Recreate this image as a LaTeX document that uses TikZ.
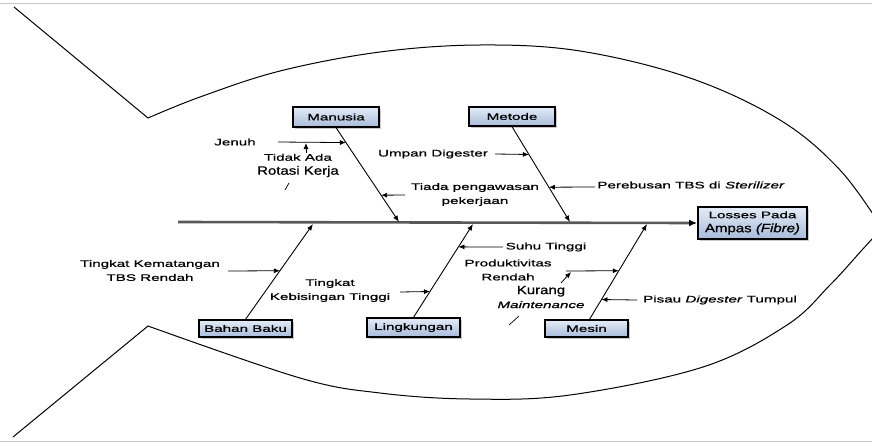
\documentclass[tikz,border=0pt]{standalone}
\usepackage{fontspec}
\setmainfont{Liberation Sans}[FakeStretch=1.6,FakeBold=0.8]
\newfontfamily\tallfont{Liberation Sans}[FakeStretch=1.25,FakeBold=0.8]
\usepackage{tikz}
\usetikzlibrary{arrows.meta,shadows,calc}
\definecolor{boxtop}{HTML}{E4ECF7}
\definecolor{boxbot}{HTML}{A8BBDA}
\definecolor{spinegray}{HTML}{595959}
\definecolor{framegray}{HTML}{C8C8C8}
\newcommand{\besar}{\tallfont\fontsize{12}{14}\selectfont}
\tikzset{
  kategori/.style={draw, line width=1.3pt, top color=boxtop, bottom color=boxbot,
    drop shadow={shadow xshift=2pt, shadow yshift=-2pt, fill=black!35, opacity=0.6},
    inner sep=1pt, font=\fontsize{9.5}{14}\selectfont},
  sebab/.style={font=\fontsize{9.5}{14}\selectfont, align=center, inner sep=0pt},
  tulang/.style={-{Latex[length=6.5pt,width=5pt]}, line width=0.9pt},
  panah/.style={-{Latex[length=6pt,width=5pt]}, line width=0.8pt},
}

\begin{document}
\begin{tikzpicture}[x=1pt,y=-1pt]
\useasboundingbox (0,0) rectangle (872,442);
\draw[framegray, line width=1pt] (0,3) -- (872,3);
\draw[framegray, line width=1pt] (0,441) -- (872,441);
\draw[line width=1pt] (14,7) -- plot[smooth, tension=0.6] coordinates {(148,118) (200,97) (280,71) (380,52) (480,45) (580,51) (690,78) (780,120) (840,170) (882,228)}
  -- plot[smooth, tension=0.6] coordinates {(882,228) (862,250) (830,285) (787,325) (703,367) (570,395) (470,399) (380,393) (300,378) (148,326)}
  -- (13,437);

\node[kategori, minimum width=86pt, minimum height=20pt] (manusia) at (336,117) {Manusia};
\node[kategori, minimum width=86pt, minimum height=19pt] (metode) at (512,116.5) {Metode};
\node[kategori, minimum width=93pt, minimum height=17pt] (bahan) at (245.5,328.5) {Bahan Baku};
\node[kategori, minimum width=93pt, minimum height=19pt] (lingkungan) at (413.5,327.5) {Lingkungan};
\node[kategori, minimum width=83pt, minimum height=17pt] (mesin) at (586.5,328.5) {Mesin};
\node[kategori, minimum width=109pt, minimum height=32pt, align=center, line width=1.8pt] (losses) at (752.5,223) {Losses Pada\\{\besar Ampas \textit{(Fibre)}}};

\coordinate (ekor) at (178,222);
\coordinate (tm) at (399,222);
\coordinate (tme) at (570,222);
\coordinate (tb) at (313,224);
\coordinate (tl) at (473,224);
\coordinate (ts) at (647,224);
\draw[spinegray, line width=2.6pt, -{Latex[length=8pt,width=7pt,color=black]}] (ekor) -- (losses.west);

\draw[tulang] (manusia.south) -- (tm);
\draw[tulang] (metode.south) -- (tme);
\draw[tulang] (bahan.north) -- (tb);
\draw[tulang] (lingkungan.north) -- (tl);
\draw[tulang] ([xshift=3pt]mesin.north) -- (ts);

\node[sebab] (jenuh) at (235,142) {Jenuh};
\node[sebab] (tidak) at (298,165.5) {Tidak Ada\\\besar Rotasi Kerja};
\node[sebab] (tiada) at (475,194.5) {Tiada pengawasan\\pekerjaan};
\node[sebab] (umpan) at (433,154) {Umpan Digester};
\node[sebab] (rebus) at (691,185) {Perebusan TBS di \textit{Sterilizer}};
\node[sebab] (matang) at (150,270.5) {Tingkat Kematangan\\TBS Rendah};
\node[sebab] (bising) at (330,290.5) {Tingkat\\Kebisingan Tinggi};
\node[sebab] (suhu) at (546,247) {Suhu Tinggi};
\node[sebab] (produk) at (508,270) {Produktivitas\\Rendah};
\node[sebab] (kurang) at (541,297) {{\besar Kurang}\\\textit{Maintenance}};
\node[sebab] (pisau) at (720,300) {Pisau \textit{Digester} Tumpul};

\coordinate (jenuh0) at (278,142);
\coordinate (tiada0) at (405,195);
\coordinate (umpan0) at (495,154);
\coordinate (rebus0) at (595,187);
\coordinate (matang0) at (228,271);
\coordinate (suhu0) at (503,247);
\coordinate (bising0) at (400,292);
\coordinate (produk0) at (566,271);
\coordinate (pisau0) at (637,300);
\coordinate (tidak0) at (306,153);
\coordinate (tidak1) at (306,143);
\coordinate (kurang0) at (561,283);
\coordinate (kurang1) at (571,272);

\draw[panah] (jenuh0) -- ($(manusia.south)!0.158!(tm)$);
\draw[panah] (tiada0) -- ($(manusia.south)!0.716!(tm)$);
\draw[panah] (umpan0) -- ($(metode.south)!0.292!(tme)$);
\draw[panah] (rebus0) -- ($(metode.south)!0.635!(tme)$);
\draw[panah] (matang0) -- ($(bahan.north)!0.51!(tb)$);
\draw[panah] (suhu0) -- ($(lingkungan.north)!0.755!(tl)$);
\draw[panah] (bising0) -- ($(lingkungan.north)!0.277!(tl)$);
\draw[panah] (produk0) -- ($([xshift=3pt]mesin.north)!0.51!(ts)$);
\draw[panah] (pisau0) -- ($([xshift=3pt]mesin.north)!0.208!(ts)$);
\draw[panah] (tidak0) -- (tidak1);
\draw[panah] (kurang0) -- (kurang1);
\draw[line width=0.7pt] (285,190) -- (289,183);
\draw[line width=0.7pt] (509,325) -- (519,316);
\end{tikzpicture}
\end{document}
